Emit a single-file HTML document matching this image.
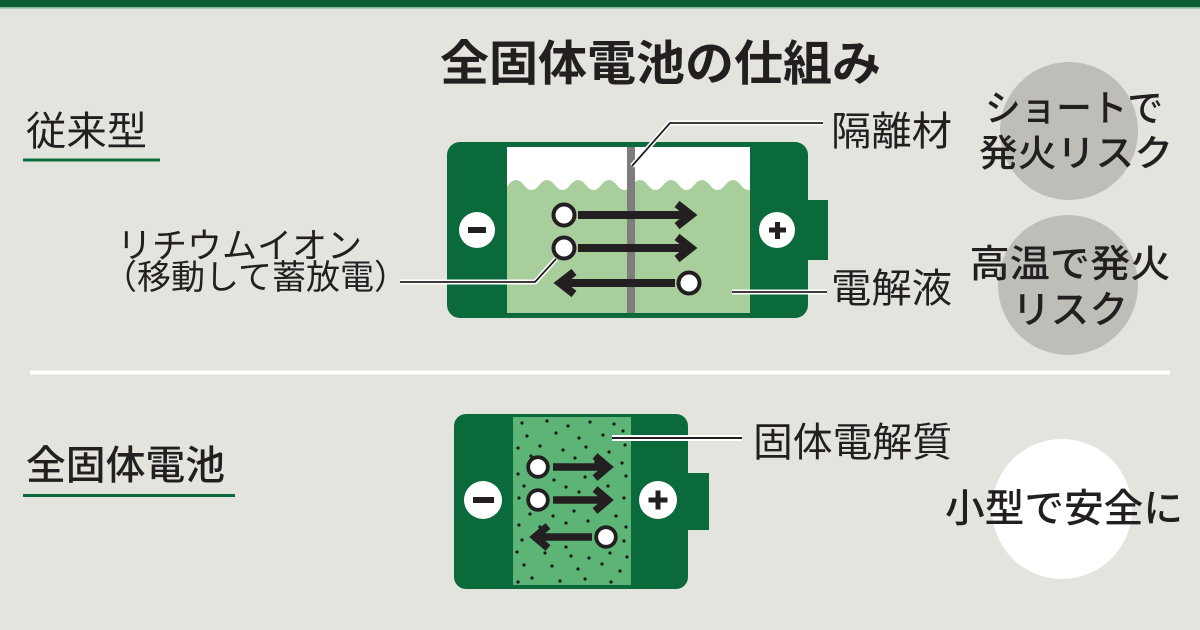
<!DOCTYPE html>
<html><head><meta charset="utf-8"><style>
html,body{margin:0;padding:0;background:#e4e4df;}
svg{display:block;}
text{font-family:"Liberation Sans","Noto Sans CJK JP",sans-serif;fill:#231f20;}
</style></head><body>
<svg width="1200" height="630" viewBox="0 0 1200 630" xmlns="http://www.w3.org/2000/svg">
<defs>
<clipPath id="inner"><rect x="507" y="147" width="243" height="166"/></clipPath>
</defs>
<rect width="1200" height="630" fill="#e4e4df"/>
<rect x="0" y="0" width="1200" height="7" fill="#0d5d36"/>
<rect x="0" y="7" width="1200" height="1.6" fill="#7fbb95"/>

<!-- title -->
<text x="440" y="80" font-size="48" font-weight="700" textLength="441" lengthAdjust="spacingAndGlyphs">全固体電池の仕組み</text>

<!-- left labels -->
<text x="26" y="145" font-size="40" font-weight="400" textLength="121" lengthAdjust="spacingAndGlyphs">従来型</text>
<rect x="23" y="158.5" width="137" height="3" fill="#0a6a3b"/>
<text x="26" y="479" font-size="40" font-weight="500" textLength="199" lengthAdjust="spacingAndGlyphs">全固体電池</text>
<rect x="23" y="494" width="212" height="3" fill="#0a6a3b"/>

<text x="117" y="258" font-size="35" font-weight="400">リチウムイオン</text>
<text x="103" y="289" font-size="34" font-weight="400">（移動して蓄放電）</text>

<!-- divider -->
<rect x="30" y="370.5" width="1140" height="4" fill="#ffffff"/>

<!-- ===== Top battery ===== -->
<rect x="808" y="200" width="20" height="60" fill="#0a6a3b"/>
<rect x="447" y="142" width="361" height="176" rx="13" fill="#0a6a3b"/>
<rect x="507" y="147" width="243" height="166" fill="#ffffff"/>
<g clip-path="url(#inner)">
<path fill="#a8ce9b" d="M477.25,185 Q485,175 492.75,185 T508.25,185 T523.75,185 T539.25,185 T554.75,185 T570.25,185 T585.75,185 T601.25,185 T616.75,185 T632.25,185 T647.75,185 T663.25,185 T678.75,185 T694.25,185 T709.75,185 T725.25,185 T740.75,185 T756.25,185 T771.75,185 L771.75,320 L477.25,320 Z"/>
</g>
<rect x="627" y="147" width="8" height="166" fill="#7d7d80"/>

<!-- minus / plus -->
<circle cx="477" cy="230" r="18" fill="#ffffff"/>
<rect x="468" y="227" width="18" height="6" fill="#231f20"/>
<circle cx="777" cy="230" r="18" fill="#ffffff"/>
<rect x="769" y="227.5" width="17" height="5" fill="#231f20"/>
<rect x="775" y="222" width="5" height="17" fill="#231f20"/>

<!-- arrows top -->
<g stroke="#231f20" fill="none" stroke-width="8" stroke-linejoin="miter" stroke-miterlimit="10">
<line x1="578" y1="215" x2="690" y2="215"/>
<polyline points="677,204 691,215 677,226"/>
<line x1="578" y1="248" x2="690" y2="248"/>
<polyline points="677,237 691,248 677,259"/>
<line x1="675" y1="283" x2="561" y2="283"/>
<polyline points="574,272 560,283 574,294"/>
</g>
<g fill="#ffffff" stroke="#231f20" stroke-width="4">
<circle cx="564" cy="215" r="10.5"/>
<circle cx="564" cy="248" r="10.5"/>
<circle cx="689" cy="283" r="10.5"/>
</g>

<!-- leaders top -->
<g fill="none" stroke-linejoin="miter">
<polyline points="632,166 670,123 823,123" stroke="#ffffff" stroke-width="5"/>
<polyline points="632,166 670,123 823,123" stroke="#231f20" stroke-width="1.8"/>
<polyline points="556,259 535,282 400,282" stroke="#ffffff" stroke-width="5"/>
<polyline points="556,259 535,282 400,282" stroke="#231f20" stroke-width="1.8"/>
<line x1="732" y1="292" x2="827" y2="292" stroke="#ffffff" stroke-width="5"/>
<line x1="732" y1="292" x2="827" y2="292" stroke="#231f20" stroke-width="1.8"/>
</g>
<text x="831" y="145" font-size="40" font-weight="400" textLength="121" lengthAdjust="spacingAndGlyphs">隔離材</text>
<text x="831" y="302" font-size="40" font-weight="400" textLength="121" lengthAdjust="spacingAndGlyphs">電解液</text>

<!-- right circles -->
<circle cx="1069" cy="131" r="69" fill="#bebdb8"/>
<circle cx="1068" cy="285" r="70" fill="#bebdb8"/>
<circle cx="1062" cy="509" r="70" fill="#ffffff"/>
<text x="1074" y="121" font-size="37" font-weight="500" text-anchor="middle" textLength="178" lengthAdjust="spacingAndGlyphs">ショートで</text>
<text x="1076" y="166" font-size="37" font-weight="500" text-anchor="middle" textLength="194" lengthAdjust="spacingAndGlyphs">発火リスク</text>
<text x="1070" y="277" font-size="38" font-weight="500" text-anchor="middle" textLength="201" lengthAdjust="spacingAndGlyphs">高温で発火</text>
<text x="1070" y="323" font-size="38" font-weight="500" text-anchor="middle" textLength="116" lengthAdjust="spacingAndGlyphs">リスク</text>
<text x="945" y="522" font-size="39" font-weight="500" textLength="238" lengthAdjust="spacingAndGlyphs">小型で安全に</text>

<!-- ===== Bottom battery ===== -->
<rect x="688" y="473" width="21" height="57" fill="#0a6a3b"/>
<rect x="454" y="414" width="234" height="175" rx="12" fill="#0a6a3b"/>
<rect x="513" y="417" width="118" height="168" fill="#5cb476"/>
<g fill="#1a1a1a">
<circle cx="522" cy="423" r="1.6"/><circle cx="547" cy="421" r="1.6"/><circle cx="568" cy="426" r="1.6"/><circle cx="590" cy="422" r="1.6"/><circle cx="614" cy="424" r="1.6"/>
<circle cx="527" cy="436" r="1.6"/><circle cx="556" cy="433" r="1.6"/><circle cx="579" cy="438" r="1.6"/><circle cx="603" cy="435" r="1.6"/><circle cx="623" cy="431" r="1.6"/>
<circle cx="518" cy="448" r="1.6"/><circle cx="540" cy="446" r="1.6"/><circle cx="563" cy="450" r="1.6"/><circle cx="586" cy="447" r="1.6"/><circle cx="609" cy="452" r="1.6"/><circle cx="625" cy="445" r="1.6"/>
<circle cx="531" cy="456" r="1.6"/><circle cx="575" cy="458" r="1.6"/><circle cx="596" cy="462" r="1.6"/><circle cx="622" cy="463" r="1.6"/>
<circle cx="518" cy="474" r="1.6"/><circle cx="554" cy="480" r="1.6"/><circle cx="585" cy="477" r="1.6"/><circle cx="626" cy="476" r="1.6"/>
<circle cx="524" cy="486" r="1.6"/><circle cx="566" cy="487" r="1.6"/><circle cx="608" cy="486" r="1.6"/>
<circle cx="519" cy="498" r="1.6"/><circle cx="579" cy="492" r="1.6"/><circle cx="600" cy="508" r="1.6"/><circle cx="624" cy="498" r="1.6"/>
<circle cx="530" cy="514" r="1.6"/><circle cx="553" cy="516" r="1.6"/><circle cx="574" cy="511" r="1.6"/><circle cx="616" cy="516" r="1.6"/>
<circle cx="519" cy="525" r="1.6"/><circle cx="540" cy="527" r="1.6"/><circle cx="566" cy="523" r="1.6"/><circle cx="588" cy="521" r="1.6"/><circle cx="626" cy="527" r="1.6"/>
<circle cx="522" cy="540" r="1.6"/><circle cx="566" cy="547" r="1.6"/><circle cx="624" cy="541" r="1.6"/>
<circle cx="517" cy="552" r="1.6"/><circle cx="545" cy="553" r="1.6"/><circle cx="571" cy="556" r="1.6"/><circle cx="589" cy="558" r="1.6"/><circle cx="610" cy="553" r="1.6"/><circle cx="627" cy="557" r="1.6"/>
<circle cx="524" cy="565" r="1.6"/><circle cx="552" cy="566" r="1.6"/><circle cx="578" cy="569" r="1.6"/><circle cx="602" cy="564" r="1.6"/><circle cx="620" cy="571" r="1.6"/>
<circle cx="532" cy="578" r="1.6"/><circle cx="560" cy="581" r="1.6"/><circle cx="585" cy="579" r="1.6"/><circle cx="611" cy="582" r="1.6"/><circle cx="518" cy="582" r="1.6"/>
</g>

<circle cx="483" cy="500" r="19" fill="#ffffff"/>
<rect x="473" y="497" width="21" height="6" fill="#231f20"/>
<circle cx="658" cy="500" r="19" fill="#ffffff"/>
<rect x="648.5" y="497.5" width="19" height="5" fill="#231f20"/>
<rect x="655.5" y="490.5" width="5" height="19" fill="#231f20"/>

<g stroke="#231f20" fill="none" stroke-width="7.5" stroke-linejoin="miter" stroke-miterlimit="10">
<line x1="553" y1="467" x2="608" y2="467"/>
<polyline points="595,456 608,467 595,478"/>
<line x1="553" y1="500" x2="608" y2="500"/>
<polyline points="595,489 608,500 595,511"/>
<line x1="592" y1="537" x2="536" y2="537"/>
<polyline points="548,526 535,537 548,548"/>
</g>
<g fill="#ffffff" stroke="#231f20" stroke-width="3.8">
<circle cx="538" cy="467" r="9.8"/>
<circle cx="538" cy="500" r="9.8"/>
<circle cx="606" cy="537" r="9.8"/>
</g>

<line x1="612" y1="438" x2="742" y2="438" stroke="#ffffff" stroke-width="6"/>
<line x1="612" y1="438" x2="742" y2="438" stroke="#231f20" stroke-width="2"/>
<text x="753" y="456" font-size="40" font-weight="400" textLength="199" lengthAdjust="spacingAndGlyphs">固体電解質</text>
</svg>
</body></html>
